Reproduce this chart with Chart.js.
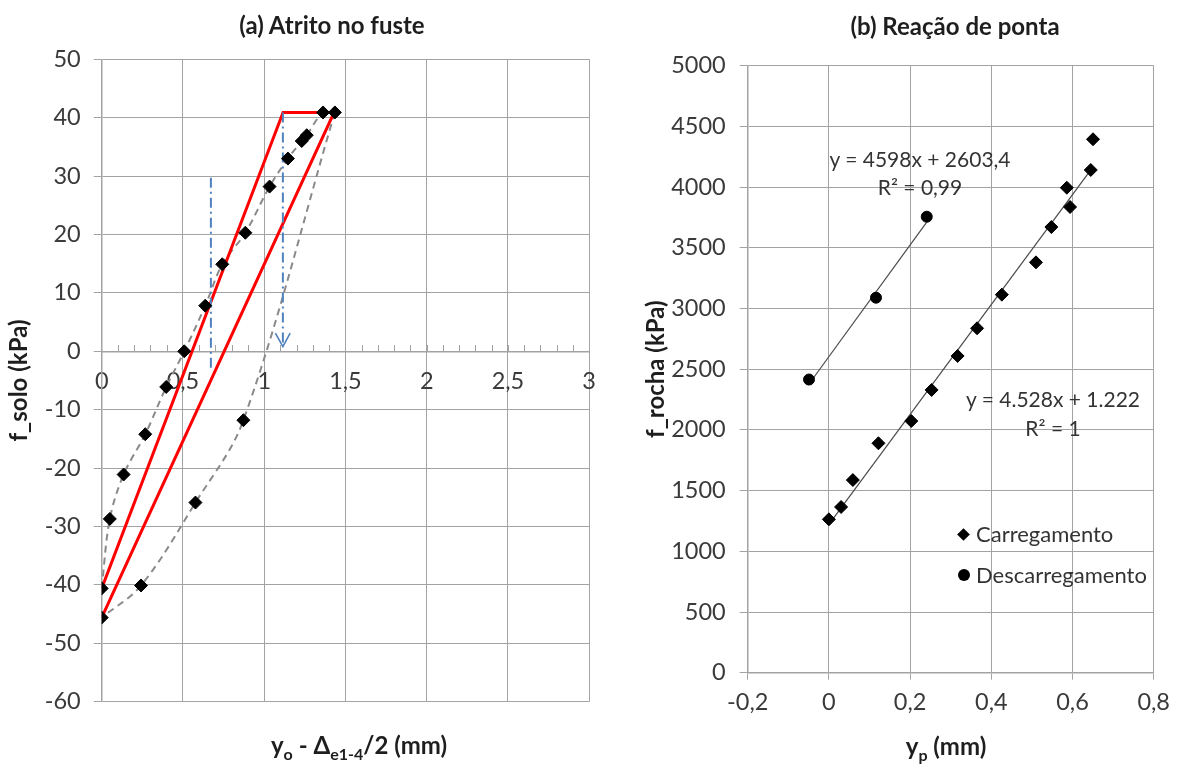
<!DOCTYPE html>
<html lang="pt">
<head>
<meta charset="utf-8">
<title>Atrito no fuste e reação de ponta</title>
<script src="https://cdn.jsdelivr.net/npm/chart.js@4.4.1/dist/chart.umd.min.js"></script>
<style>
  html, body { margin: 0; padding: 0; background: #ffffff; }
  #fig { position: relative; width: 1179px; height: 764px; overflow: hidden;
         font-family: Lato, "Open Sans", sans-serif; color: #333; }
  #fig canvas { position: absolute; top: 0; }
  #chartA { left: 0; }
  #chartB { left: 600px; }
  .lbl { position: absolute; white-space: nowrap; transform: translate(-50%, -50%); line-height: 1; }
  .ttl { font-weight: bold; font-size: 24px; color: #1e1e1e; }
  .axt { font-weight: bold; font-size: 24px; color: #1e1e1e; }
  .axt sub { font-size: 16px; vertical-align: -6px; line-height: 0; }
  .eq { font-size: 21px; color: #333; }
  .leg { position: absolute; font-size: 22px; color: #333; white-space: nowrap; line-height: 1; transform: translateY(-50%); }
  .mk { position: absolute; background: #000; }
</style>
</head>
<body>
<div id="fig">
  <canvas id="chartA" width="612" height="764"></canvas>
  <canvas id="chartB" width="579" height="764"></canvas>

  <div class="lbl ttl" style="left:332px;top:25px">(a) Atrito no fuste</div>
  <div class="lbl ttl" style="left:955px;top:26px">(b) Reação de ponta</div>

  <div class="lbl axt" style="left:359px;top:745px">y<sub>o</sub> - Δ<sub>e1-4</sub>/2 (mm)</div>
  <div class="lbl axt" style="left:946px;top:746px">y<sub>p</sub> (mm)</div>

  <div class="lbl eq" style="left:920px;top:158px">y = 4598x + 2603,4</div>
  <div class="lbl eq" style="left:920px;top:186px">R² = 0,99</div>
  <div class="lbl eq" style="left:1053px;top:398px">y = 4.528x + 1.222</div>
  <div class="lbl eq" style="left:1053px;top:427px">R² = 1</div>

  <div class="mk" style="left:959px;top:530px;width:9px;height:9px;transform:rotate(45deg)"></div>
  <div class="leg" style="left:976px;top:534px">Carregamento</div>
  <div class="mk" style="left:958px;top:569px;width:12px;height:12px;border-radius:50%"></div>
  <div class="leg" style="left:976px;top:575px">Descarregamento</div>
</div>

<script>
const FONT = 'Lato, "Open Sans", sans-serif';
const GRID = '#a3a3a3';
const AXIS = '#a3a3a3';
const TICK_TEXT = '#3a3a3a';
const TITLE_TEXT = '#1e1e1e';

// ---------- (a) Atrito no fuste ----------
// Loading branch (measured points, joined by a dashed smooth curve)
const loadDisp = [0, 0.05, 0.135, 0.268, 0.397, 0.508, 0.637, 0.742, 0.884, 1.033, 1.146, 1.231, 1.262, 1.362, 1.435];
const loadFs   = [-40.6, -28.7, -21.1, -14.2, -6.1, 0, 7.8, 14.9, 20.3, 28.2, 33.0, 36.0, 37.0, 40.9, 40.9];
// Unloading branch
const unloadDisp = [1.435, 0.872, 0.577, 0.242, 0];
const unloadFs   = [40.9, -11.8, -25.9, -40.1, -45.6];
// Idealised elasto-plastic loop (red)
const modelDisp = [0, 1.116, 1.43, 0];
const modelFs   = [-40.6, 40.9, 40.9, -45.6];
// Dash-dot guide lines and arrow head
const guide1Disp = [0.672, 0.672];
const guide1Fs   = [29.7, -3.5];
const guide2Disp = [1.115, 1.115];
const guide2Fs   = [40.9, 0.8];
const arrowDisp  = [1.069, 1.115, 1.160];
const arrowFs    = [3.1, 0.8, 3.1];
// Axis ticks
const xTicksA = [0, 0.5, 1, 1.5, 2, 2.5, 3];
const yTicksA = [-60, -50, -40, -30, -20, -10, 0, 10, 20, 30, 40, 50];
const MINOR_STEP_A = 0.1;

// ---------- (b) Reação de ponta ----------
const carregYp = [0, 0.030, 0.059, 0.122, 0.203, 0.253, 0.317, 0.365, 0.426, 0.510, 0.548, 0.586, 0.594, 0.645, 0.6505];
const carregF  = [1263, 1365, 1587, 1890, 2073, 2329, 2609, 2837, 3114, 3380, 3671, 3995, 3836, 4141, 4394];
const descYp = [-0.049, 0.116, 0.241];
const descF  = [2415, 3089, 3756];
// Linear fits as printed next to each series (carregamento printed in MPa)
const fitCarreg = { slope: 4.528 * 1000, intercept: 1.222 * 1000 };
const fitDesc   = { slope: 4598, intercept: 2603.4 };
const xTicksB = [-0.2, 0, 0.2, 0.4, 0.6, 0.8];
const yTicksB = [0, 500, 1000, 1500, 2000, 2500, 3000, 3500, 4000, 4500, 5000];

const xy = (xs, ys) => xs.map((x, i) => ({ x, y: ys[i] }));
const fmt = v => String(Math.round(v * 100) / 100).replace('.', ',');
const fixTicks = vals => scale => { scale.ticks = vals.map(v => ({ value: v })); };
const tickFont = { family: FONT, size: 23.5 };
const axisTitleFont = { family: FONT, size: 24, weight: 'bold' };

function fitLine(fit, xs) {
  const lo = Math.min(...xs), hi = Math.max(...xs);
  return [{ x: lo, y: fit.slope * lo + fit.intercept }, { x: hi, y: fit.slope * hi + fit.intercept }];
}

// small upward minor ticks along the horizontal axis drawn at f = 0
const minorTicks = {
  id: 'minorTicks',
  beforeDatasetsDraw(chart) {
    const sx = chart.scales.x, sy = chart.scales.y;
    const y0 = Math.round(sy.getPixelForValue(0));
    const ctx = chart.ctx;
    ctx.save();
    ctx.strokeStyle = GRID;
    ctx.lineWidth = 1;
    ctx.beginPath();
    const n = Math.round((sx.max - sx.min) / MINOR_STEP_A);
    for (let i = 1; i < n; i++) {
      const px = Math.round(sx.getPixelForValue(sx.min + i * MINOR_STEP_A)) + 0.5;
      ctx.moveTo(px, y0);
      ctx.lineTo(px, y0 - 6);
    }
    ctx.stroke();
    ctx.restore();
  }
};

const common = {
  responsive: false,
  animation: false,
  devicePixelRatio: 1,
  events: [],
  plugins: { legend: { display: false }, tooltip: { enabled: false }, title: { display: false } }
};

const diamondPts = xy(loadDisp, loadFs).concat(xy(unloadDisp.slice(1), unloadFs.slice(1)));

new Chart(document.getElementById('chartA'), {
  type: 'scatter',
  data: {
    datasets: [
      { data: diamondPts, pointStyle: 'rectRot', pointRadius: 6.5, backgroundColor: '#000', borderColor: '#000', borderWidth: 1, showLine: false },
      { data: xy(guide1Disp, guide1Fs), showLine: true, pointRadius: 0, borderColor: '#4f81bd', borderWidth: 2, borderDash: [10, 4, 2, 4] },
      { data: xy(guide2Disp, guide2Fs), showLine: true, pointRadius: 0, borderColor: '#4f81bd', borderWidth: 2, borderDash: [10, 4, 2, 4] },
      { data: xy(arrowDisp, arrowFs), showLine: true, pointRadius: 0, borderColor: '#4f81bd', borderWidth: 1.6 },
      { data: xy(modelDisp, modelFs), showLine: true, pointRadius: 0, borderColor: '#ff0000', borderWidth: 3, borderJoinStyle: 'miter' },
      { data: xy(loadDisp, loadFs), showLine: true, pointRadius: 0, borderColor: '#8a8a8a', borderWidth: 2, borderDash: [7, 5], tension: 0.35 },
      { data: xy(unloadDisp, unloadFs), showLine: true, pointRadius: 0, borderColor: '#8a8a8a', borderWidth: 2, borderDash: [7, 5], tension: 0.35 }
    ]
  },
  options: Object.assign({}, common, {
    layout: { padding: { left: 0, top: 59.3, right: 14.7, bottom: 62.3 } },
    scales: {
      x: {
        type: 'linear', position: { y: 0 }, min: 0, max: 3,
        afterBuildTicks: fixTicks(xTicksA),
        afterFit: s => { s.height = 0; },
        grid: { color: GRID, lineWidth: 1, drawTicks: false },
        border: { display: true, color: AXIS, width: 1.5 },
        ticks: { font: tickFont, color: TICK_TEXT, padding: 16, maxRotation: 0, autoSkip: false, callback: v => fmt(v) }
      },
      y: {
        type: 'linear', position: 'left', min: -60, max: 50,
        afterBuildTicks: fixTicks(yTicksA),
        afterFit: s => { s.width = 101.7; },
        grid: { color: GRID, lineWidth: 1, drawTicks: true, tickLength: 8, tickColor: GRID },
        border: { display: true, color: AXIS, width: 1.5 },
        ticks: { font: tickFont, color: TICK_TEXT, padding: 13, autoSkip: false, callback: v => fmt(v) },
        title: { display: true, text: 'f_solo (kPa)', color: TITLE_TEXT, font: axisTitleFont, padding: { top: 5, bottom: 0 } }
      }
    }
  }),
  plugins: [minorTicks]
});

new Chart(document.getElementById('chartB'), {
  type: 'scatter',
  data: {
    datasets: [
      { label: 'Carregamento', data: xy(carregYp, carregF), pointStyle: 'rectRot', pointRadius: 6.5, backgroundColor: '#000', borderColor: '#000', borderWidth: 1, showLine: false },
      { label: 'Descarregamento', data: xy(descYp, descF), pointStyle: 'circle', pointRadius: 5.5, backgroundColor: '#000', borderColor: '#000', borderWidth: 1, showLine: false },
      { data: fitLine(fitCarreg, carregYp), showLine: true, pointRadius: 0, borderColor: '#4a4a4a', borderWidth: 1.2 },
      { data: fitLine(fitDesc, descYp), showLine: true, pointRadius: 0, borderColor: '#4a4a4a', borderWidth: 1.2 }
    ]
  },
  options: Object.assign({}, common, {
    layout: { padding: { left: 0, top: 65.7, right: 18, bottom: 0 } },
    scales: {
      x: {
        type: 'linear', position: 'bottom', min: -0.2, max: 0.8,
        afterBuildTicks: fixTicks(xTicksB),
        afterFit: s => { s.height = 91.3; },
        grid: { color: GRID, lineWidth: 1, drawTicks: true, tickLength: 7, tickColor: GRID },
        border: { display: true, color: AXIS, width: 1.5 },
        ticks: { font: tickFont, color: TICK_TEXT, padding: 9, maxRotation: 0, autoSkip: false, callback: v => fmt(v) }
      },
      y: {
        type: 'linear', position: 'left', min: 0, max: 5000,
        afterBuildTicks: fixTicks(yTicksB),
        afterFit: s => { s.width = 147.7; },
        grid: { color: GRID, lineWidth: 1, drawTicks: true, tickLength: 8, tickColor: GRID },
        border: { display: true, color: AXIS, width: 1.5 },
        ticks: { font: tickFont, color: TICK_TEXT, padding: 14, autoSkip: false, callback: v => String(v) },
        title: { display: true, text: 'f_rocha (kPa)', color: TITLE_TEXT, font: axisTitleFont, padding: { top: 42, bottom: 0 } }
      }
    }
  })
});
</script>
</body>
</html>
